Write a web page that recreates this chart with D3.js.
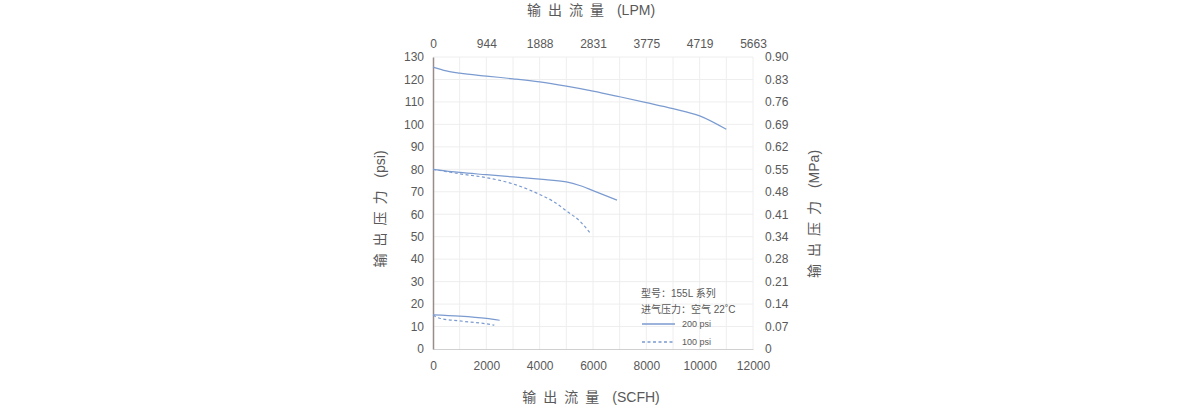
<!DOCTYPE html>
<html><head><meta charset="utf-8">
<script src="https://cdn.jsdelivr.net/npm/d3@7"></script>
<style>
body{margin:0;background:#fff;}
text{font-family:"Liberation Sans",Arial,"Noto Sans CJK SC",sans-serif;fill:#595959;}
</style></head>
<body><svg id="c" width="1191" height="408"></svg>
<script>
const bottomTicks = [0,2000,4000,6000,8000,10000,12000];
const topTickLabels = ["0","944","1888","2831","3775","4719","5663"];
const leftTicks = [0,10,20,30,40,50,60,70,80,90,100,110,120,130];
const rightTickLabels = ["0","0.07","0.14","0.21","0.28","0.34","0.41","0.48","0.55","0.62","0.69","0.76","0.83","0.90"];

const s200a_x = [0,500,1000,2000,3000,4000,5000,6000,7000,8000,9000,10000,11000];
const s200a_y = [125.5,123.8,122.8,121.5,120.3,118.9,117,114.8,112.3,109.7,107,103.8,97.8];
const s200b_x = [0,1000,2000,3000,4000,5000,5500,6000,6900];
const s200b_y = [80,78.6,77.6,76.6,75.6,74.4,72.8,70.5,66.3];
const s200c_x = [0,1000,2000,2500];
const s200c_y = [15.2,14.6,13.6,12.8];
const s100b_x = [0,500,1000,2000,3000,4000,4500,5000,5500,5900];
const s100b_y = [80,79,78,76.3,73.5,68.8,65.8,61.5,57,51.5];
const s100c_x = [0,250,1000,2000,2300];
const s100c_y = [15,13.7,12.5,11.2,10.6];

const legendTitle1 = "型号：155L 系列";
const legendTitle2 = "进气压力：空气 22˚C";
const seriesNames = ["200 psi","100 psi"];
const titleCJK = ["输出流量","输出流量","输出压力","输出压力"];
const titleUnit = ["(LPM)","(SCFH)","(psi)","(MPa)"];

const svg = d3.select("#c");
const L=433, R=753, T=57, B=349;
const x = d3.scaleLinear().domain([0,12000]).range([L,R]);
const y = d3.scaleLinear().domain([0,130]).range([B,T]);
const color = "#7b9bd0";

// grid
const g = svg.append("g");
g.selectAll(".vg").data(d3.range(1000,12001,1000)).join("line")
 .attr("x1",d=>x(d)).attr("x2",d=>x(d)).attr("y1",T).attr("y2",B)
 .attr("stroke","#eeeeee").attr("stroke-width",1);
g.selectAll(".hg").data(leftTicks.filter(d=>d>0)).join("line")
 .attr("x1",L).attr("x2",R).attr("y1",d=>y(d)).attr("y2",d=>y(d))
 .attr("stroke","#eeeeee").attr("stroke-width",1);

// bottom axis
const xb = svg.append("g").attr("transform",`translate(0,${B})`)
 .call(d3.axisBottom(x).tickValues(bottomTicks).tickSize(0).tickPadding(12).tickFormat(d3.format("d")));
xb.select(".domain").attr("stroke","#d0d0d0");
xb.selectAll("text").attr("font-size",12).attr("fill","#595959");

// top axis (labels only)
const xt = svg.append("g").attr("transform",`translate(0,${T})`)
 .call(d3.axisTop(x).tickValues(bottomTicks).tickSize(0).tickPadding(9).tickFormat((d,i)=>topTickLabels[i]));
xt.select(".domain").remove();
xt.selectAll("text").attr("font-size",12).attr("fill","#595959");

// left axis
const yl = svg.append("g").attr("transform",`translate(${L},0)`)
 .call(d3.axisLeft(y).tickValues(leftTicks).tickSize(0).tickPadding(9));
yl.select(".domain").attr("stroke","#9a8c8c").attr("stroke-width",1.5);
yl.selectAll("text").attr("font-size",12).attr("fill","#595959");

// right axis labels
const yr = svg.append("g").attr("transform",`translate(${R},0)`)
 .call(d3.axisRight(y).tickValues(leftTicks).tickSize(0).tickPadding(12).tickFormat((d,i)=>rightTickLabels[i]));
yr.select(".domain").remove();
yr.selectAll("text").attr("font-size",12).attr("fill","#595959");

// series
const line = d3.line().x(d=>x(d[0])).y(d=>y(d[1])).curve(d3.curveMonotoneX);
function draw(xs,ys,dash){
  svg.append("path").datum(xs.map((v,i)=>[v,ys[i]]))
   .attr("d",line).attr("fill","none").attr("stroke",color).attr("stroke-width",1.2)
   .attr("stroke-dasharray",dash?"3,2.5":null);
}
draw(s200a_x,s200a_y,false);
draw(s200b_x,s200b_y,false);
draw(s200c_x,s200c_y,false);
draw(s100b_x,s100b_y,true);
draw(s100c_x,s100c_y,true);

// titles
function title(i, transform){
  const t = svg.append("text").attr("transform",transform).attr("text-anchor","middle")
    .attr("font-size",14).attr("fill","#404040");
  t.append("tspan").style("letter-spacing","7px").text(titleCJK[i]);
  t.append("tspan").attr("dx",6).text(titleUnit[i]);
}
title(0,"translate(591,15)");
title(1,"translate(591,402)");
title(2,"translate(385,209) rotate(-90)");
title(3,"translate(819,214) rotate(-90)");

// legend
const lg = svg.append("g");
lg.append("text").attr("x",641).attr("y",297).attr("font-size",10).text(legendTitle1);
lg.append("text").attr("x",641).attr("y",313).attr("font-size",10).text(legendTitle2);
lg.append("line").attr("x1",642).attr("x2",675).attr("y1",324).attr("y2",324).attr("stroke",color).attr("stroke-width",1.3);
lg.append("text").attr("x",682).attr("y",327).attr("font-size",9).text(seriesNames[0]);
lg.append("line").attr("x1",642).attr("x2",675).attr("y1",342).attr("y2",342).attr("stroke",color).attr("stroke-width",1.3).attr("stroke-dasharray","3,2.5");
lg.append("text").attr("x",682).attr("y",345).attr("font-size",9).text(seriesNames[1]);
</script></body></html>
